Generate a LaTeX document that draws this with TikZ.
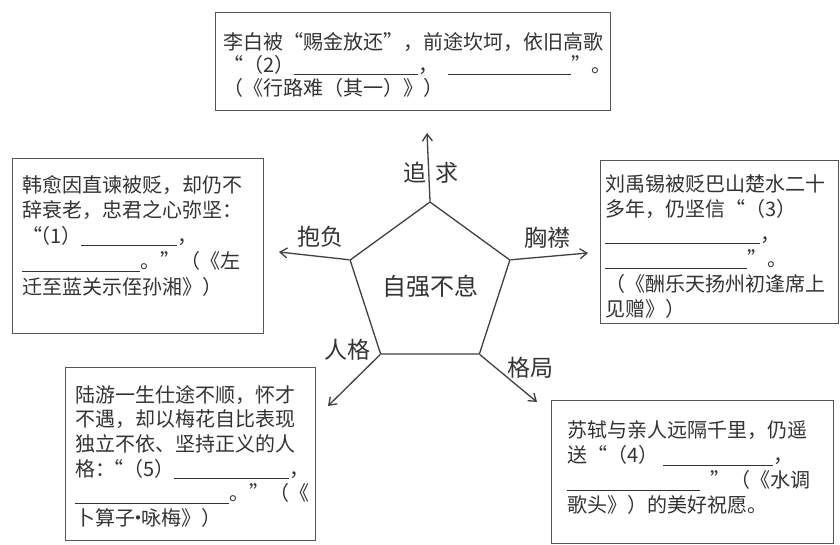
\documentclass[tikz,border=0pt]{standalone}
\usepackage{fontspec}
\setmainfont{Noto Sans CJK SC}
\usetikzlibrary{arrows.meta,shapes.geometric}
\definecolor{ink}{HTML}{333333}
\definecolor{linegray}{HTML}{404040}
\definecolor{boxgray}{HTML}{555555}
\newcommand\blank[1]{\rule[-3pt]{#1}{0.7pt}}
\newcommand\firststrut{\rule{0pt}{19pt}}
\newcommand\middot{\kern-7pt·\kern-7pt}
\begin{document}
\begin{tikzpicture}[x=1pt,y=-1pt,
  boxst/.style={draw=boxgray, line width=1.1pt, anchor=north west, inner sep=0pt},
  txt/.style={anchor=north west, inner sep=0pt, text width=440pt, align=left, text=ink},
  lbl/.style={inner sep=0pt, text=ink, font=\fontsize{23pt}{23pt}\selectfont},
  arr/.style={draw=linegray, line width=1.3pt, -{Straight Barb[length=7pt,width=10pt]}}
]
\useasboundingbox (0,0) rectangle (840,545);
\fill[white] (0,0) rectangle (840,545);

% boxes
\node[boxst, minimum width=395pt, minimum height=98pt] (btop) at (215,12) {};
\node[boxst, minimum width=251pt, minimum height=175pt] (bleft) at (12,158) {};
\node[boxst, minimum width=238pt, minimum height=163pt] (bright) at (600,160) {};
\node[boxst, minimum width=250pt, minimum height=173pt] (bbl) at (65,367) {};
\node[boxst, minimum width=282pt, minimum height=143pt] (bbr) at (551,400) {};

% box texts
\node[txt, font=\fontsize{20pt}{23pt}\selectfont] (ttop) at (223,30) {%
\firststrut 李白被“赐金放还”，前途坎坷，依旧高歌\\
“（2）\blank{124pt}，\hspace{10pt}\blank{123pt}”。\\
（《行路难（其一）》）};

\node[txt, font=\fontsize{20pt}{25.5pt}\selectfont] (tleft) at (22,173) {%
\firststrut 韩愈因直谏被贬，却仍不\\
辞衰老，忠君之心弥坚：\\
“\kern-12pt（1）\blank{96pt}，\\
\blank{118pt}。”（《左\\
迁至蓝关示侄孙湘》）};

\node[txt, font=\fontsize{20pt}{25pt}\selectfont] (tright) at (605,172) {%
\firststrut 刘禹锡被贬巴山楚水二十\\
多年，仍坚信“（3）\\
\blank{155pt}，\\
\blank{142pt}”。\\
（《酬乐天扬州初逢席上\\
见赠》）};

\node[txt, font=\fontsize{20pt}{24.6pt}\selectfont] (tbl) at (75,383) {%
\firststrut 陆游一生仕途不顺，怀才\\
不遇，却以梅花自比表现\\
独立不依、坚持正义的人\\
格：\kern-12pt“（5）\blank{115pt}，\\
\blank{154pt}。”（《\\
卜算子\middot 咏梅》）};

\node[txt, font=\fontsize{20pt}{25pt}\selectfont] (tbr) at (567,418) {%
\firststrut 苏轼与亲人远隔千里，仍遥\\
送“（4）\hspace{5pt}\blank{110pt}，\\
\blank{133pt}\hspace{10pt}”（《水调\\
歌头》）的美好祝愿。};

% central pentagon
\node[regular polygon, regular polygon sides=5, minimum size=168pt, inner sep=0pt,
      draw=linegray, line width=1.3pt, text=ink, font=\fontsize{24pt}{24pt}\selectfont]
      (core) at (430,286) {自强不息};

% free ends of the arrows
\coordinate (eT) at (427,133);
\coordinate (eUL) at (279,252);
\coordinate (eLL) at (328,406);
\coordinate (eLR) at (537,402);
\coordinate (eUR) at (588,253);

\draw[arr] (core.corner 1) -- (eT);
\draw[arr] (core.corner 2) -- (eUL);
\draw[arr] (core.corner 3) -- (eLL);
\draw[arr] (core.corner 4) -- (eLR);
\draw[arr] (core.corner 5) -- (eUR);

% labels
\node[lbl] (lT) at (431,173) {追\hspace{9pt}求};
\node[lbl] (lUL) at (320,237) {抱负};
\node[lbl] (lUR) at (547,238) {胸襟};
\node[lbl] (lLL) at (347,350) {人格};
\node[lbl] (lLR) at (530,368) {格局};
\end{tikzpicture}
\end{document}
